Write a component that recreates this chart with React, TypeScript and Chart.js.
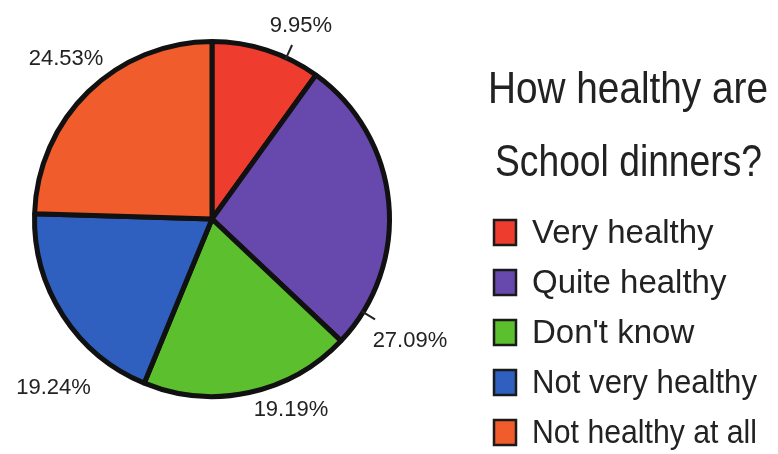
import React, { useEffect, useRef } from "react";
import { Chart, registerables } from "chart.js";

Chart.register(...registerables);

const categories = ["Very healthy", "Quite healthy", "Don't know", "Not very healthy", "Not healthy at all"];
const shares = [9.95, 27.09, 19.19, 19.24, 24.53];
const sliceColors = ["#ee3d2f", "#6748ad", "#5cbf2d", "#2f5fbf", "#f05c2b"];
const titleLines = ["How healthy are", "School dinners?"];

// label placement: fraction along the slice's arc, and distance beyond the rim
const labelFrac = [0.69, 0.88, 0.35, 0.3, 0.52];
const labelGap = [35, 55, 29, 54, 39];
const labelTick = [true, true, false, false, false];

const overlay = {
  id: "overlay",
  afterDraw(chart: any) {
    const ctx = chart.ctx;
    const meta = chart.getDatasetMeta(0);
    const ds = chart.data.datasets[0];
    ctx.save();
    ctx.fillStyle = "#222";
    ctx.strokeStyle = "#222";
    ctx.textAlign = "center";
    ctx.textBaseline = "middle";
    ctx.font = "22px 'Liberation Sans', sans-serif";
    meta.data.forEach((arc: any, i: number) => {
      const p = arc.getProps(["x", "y", "startAngle", "endAngle", "outerRadius"], true);
      const a = p.startAngle + labelFrac[i] * (p.endAngle - p.startAngle);
      const r = p.outerRadius + labelGap[i];
      ctx.fillText(ds.data[i].toFixed(2) + "%", p.x + Math.cos(a) * r, p.y + Math.sin(a) * r);
      if (labelTick[i]) {
        ctx.lineWidth = 2;
        ctx.beginPath();
        ctx.moveTo(p.x + Math.cos(a) * (p.outerRadius - 2), p.y + Math.sin(a) * (p.outerRadius - 2));
        ctx.lineTo(p.x + Math.cos(a) * (p.outerRadius + 14), p.y + Math.sin(a) * (p.outerRadius + 14));
        ctx.stroke();
      }
    });

    // title
    ctx.textAlign = "left";
    ctx.textBaseline = "alphabetic";
    ctx.font = "44px 'Liberation Sans', sans-serif";
    ctx.fillText(titleLines[0], 488, 103, 280);
    ctx.fillText(titleLines[1], 495, 176, 267);

    // legend
    ctx.font = "33px 'Liberation Sans', sans-serif";
    chart.data.labels.forEach((lab: string, i: number) => {
      const cy = 232 + i * 50;
      ctx.fillStyle = ds.backgroundColor[i];
      ctx.fillRect(494, cy - 12, 22, 25);
      ctx.lineWidth = 2.5;
      ctx.strokeStyle = "#1a1a1a";
      ctx.strokeRect(494, cy - 12, 22, 25);
      ctx.fillStyle = "#222";
      ctx.fillText(lab, 532, cy + 11, 225);
    });
    ctx.restore();
  },
};

export default function App() {
  const ref = useRef<HTMLCanvasElement>(null);
  useEffect(() => {
    if (!ref.current) return;
    const chart = new Chart(ref.current, {
      type: "pie",
      data: {
        labels: categories,
        datasets: [
          {
            data: shares,
            backgroundColor: sliceColors,
            borderColor: "#111",
            borderWidth: 5,
          },
        ],
      },
      options: {
        responsive: false,
        animation: false,
        rotation: 0,
        layout: { padding: { left: 32, top: 38, right: 386, bottom: 54 } },
        plugins: {
          legend: { display: false },
          tooltip: { enabled: false },
          title: { display: false },
        },
      },
      plugins: [overlay],
    });
    return () => chart.destroy();
  }, []);
  return (
    <div style={{ position: "fixed", left: 0, top: 0, width: 778, height: 454, background: "#fff" }}>
      <canvas ref={ref} width={778} height={454} style={{ display: "block" }} />
    </div>
  );
}
